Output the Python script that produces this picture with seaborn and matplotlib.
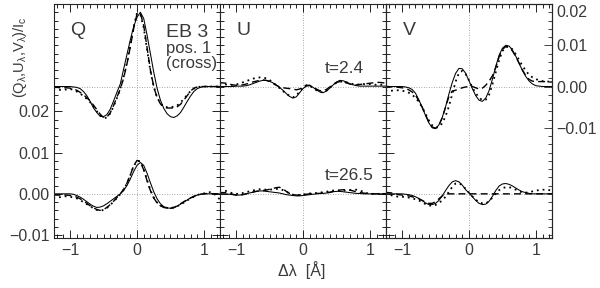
import numpy as np
import pandas as pd
import matplotlib
matplotlib.use("Agg")
import matplotlib.pyplot as plt
import matplotlib.transforms as mtransforms
from matplotlib.ticker import MultipleLocator, FixedLocator
import seaborn as sns

# wavelength grid (Angstrom), profiles in units of 1e-3 I_c
dl = np.round(np.arange(-25, 26) * 0.05, 2)
OFFSET = 0.026  # shift of the t=2.4 profiles
epochs = ["t=2.4", "t=26.5"]
kinds = ["solid", "dashed", "dotted"]

# rows: -1.25..-0.80 | -0.75..-0.30 | -0.25..0.20 | 0.25..0.70 | 0.75..1.25
q_early_solid = [0, 0, 0, 0, 0, 0, -0.1, -0.2, -0.5, -1.2,
                 -2.2, -3.6, -5.2, -6.3, -7.2, -7.3, -6.8, -5.5, -3.5, -1.4,
                 0.6, 4.2, 7.8, 11.3, 14.5, 16.8, 18.0, 16.5, 12.5, 8.0,
                 3.5, -0.4, -3.3, -5.3, -6.6, -7.3, -7.5, -7.1, -6.3, -5.0,
                 -3.6, -2.3, -1.2, -0.5, -0.2, 0, 0, 0, 0, 0, 0]
q_early_dashed = [-0.1, -0.2, -0.3, -0.3, -0.3, -0.4, -0.6, -0.9, -1.4, -2.0,
                  -2.7, -3.5, -4.5, -5.6, -6.7, -7.5, -7.4, -6.4, -4.6, -2.6,
                  -0.6, 2.0, 5.5, 9.6, 14.0, 17.6, 17.8, 14.8, 9.5, 4.0,
                  0.0, -2.7, -4.2, -5.0, -5.2, -5.2, -5.2, -4.9, -4.3, -3.3,
                  -2.2, -1.1, -0.4, -0.1, 0, 0, 0, 0, 0, 0, 0]
q_early_dotted = [-0.6, -0.7, -0.8, -0.8, -0.7, -0.6, -0.8, -1.2, -1.7, -2.3,
                  -3.0, -3.8, -4.8, -6.0, -7.0, -7.7, -7.5, -6.5, -4.8, -2.8,
                  -0.5, 2.3, 5.8, 10.0, 14.5, 17.8, 17.5, 14.3, 9.0, 3.8,
                  0.0, -2.6, -4.1, -4.9, -5.0, -5.0, -4.9, -4.6, -3.9, -3.0,
                  -2.0, -1.1, -0.5, -0.2, 0, 0, 0, 0, 0, 0, 0]
q_late_solid = [0, 0, 0, 0, 0, 0, -0.1, -0.4, -0.8, -1.3,
                -1.9, -2.5, -3.0, -3.3, -3.2, -2.9, -2.4, -1.8, -1.2, -0.6,
                0.0, 0.8, 2.0, 3.6, 5.4, 6.9, 7.6, 6.9, 5.0, 2.7,
                0.5, -1.2, -2.4, -3.1, -3.4, -3.5, -3.4, -3.0, -2.5, -2.0,
                -1.5, -1.0, -0.6, -0.3, -0.1, 0, 0, 0, 0, 0, 0]
q_late_dashed = [-0.3, -0.3, -0.3, -0.3, -0.3, -0.4, -0.5, -0.8, -1.2, -1.7,
                 -2.3, -2.9, -3.4, -3.8, -4.0, -3.8, -3.3, -2.6, -1.8, -0.9,
                 0.0, 1.1, 2.6, 4.6, 6.8, 8.1, 7.8, 5.8, 3.2, 0.8,
                 -1.0, -2.2, -2.9, -3.3, -3.5, -3.5, -3.3, -2.9, -2.4, -1.9,
                 -1.4, -1.0, -0.6, -0.3, -0.1, 0, 0.1, 0.1, 0, 0, 0]
q_late_dotted = [-1.0, -1.0, -0.8, -0.6, -0.6, -0.7, -0.9, -1.1, -1.5, -2.0,
                 -2.5, -3.0, -3.5, -3.9, -4.1, -3.9, -3.4, -2.7, -1.9, -1.0,
                 -0.1, 1.0, 2.5, 4.5, 6.7, 8.0, 7.9, 6.0, 3.4, 0.9,
                 -0.9, -2.1, -2.8, -3.2, -3.4, -3.4, -3.3, -3.0, -2.6, -2.1,
                 -1.6, -1.1, -0.7, -0.3, 0.0, 0.1, 0.3, 0.4, 0.1, -0.8, -1.5]

u_early_solid = [0.0, 0.0, 0.0, 0.0, 0.0, 0.1, 0.1, 0.1, 0.2, 0.4,
                 0.7, 1.0, 1.3, 1.5, 1.5, 1.3, 0.9, 0.4, -0.2, -0.9,
                 -1.7, -2.4, -2.8, -2.5, -1.5, -0.5, 0.1, 0.2, -0.2, -0.8,
                 -1.3, -1.5, -1.1, -0.4, 0.4, 1.1, 1.5, 1.4, 1.1, 0.7,
                 0.4, 0.2, 0.1, 0.1, 0.1, 0.1, 0.1, 0.1, 0.1, 0.1, 0.1]
u_early_dashed = [0.9, 0.9, 0.8, 0.6, 0.4, 0.3, 0.3, 0.4, 0.6, 0.8,
                  1.1, 1.3, 1.5, 1.6, 1.5, 1.2, 0.8, 0.3, -0.1, -0.3,
                  -0.4, -0.5, -0.6, -0.8, -0.6, -0.1, 0.3, 0.3, -0.1, -0.6,
                  -1.0, -1.1, -0.7, -0.1, 0.5, 1.0, 1.2, 1.1, 0.9, 0.6,
                  0.4, 0.4, 0.5, 0.6, 0.7, 0.8, 0.9, 1.0, 1.0, 0.9, 0.8]
u_early_dotted = [0.6, 0.6, 0.5, 0.4, 0.4, 0.5, 0.7, 1.0, 1.3, 1.6,
                  1.9, 2.1, 2.2, 2.2, 2.0, 1.6, 1.0, 0.3, -0.4, -1.1,
                  -1.7, -2.3, -2.6, -2.2, -1.2, -0.2, 0.3, 0.2, -0.3, -0.9,
                  -1.3, -1.4, -1.0, -0.3, 0.4, 0.9, 1.2, 1.2, 1.0, 0.8,
                  0.6, 0.5, 0.5, 0.6, 0.6, 0.6, 0.5, 0.4, 0.4, 0.5, 0.5]
u_late_solid = [0.0, 0.0, 0.0, -0.1, -0.2, -0.3, -0.3, -0.2, 0.0, 0.2,
                0.4, 0.6, 0.7, 0.7, 0.6, 0.5, 0.4, 0.3, 0.2, 0.0,
                -0.2, -0.3, -0.4, -0.5, -0.5, -0.4, -0.3, -0.2, -0.1, 0.0,
                0.1, 0.1, 0.2, 0.3, 0.5, 0.6, 0.6, 0.5, 0.4, 0.3,
                0.2, 0.1, 0.1, 0.0, 0.0, 0.0, 0.0, 0.0, 0.0, 0.0, 0.0]
u_late_dashed = [0.2, 0.3, 0.3, 0.1, -0.1, -0.3, -0.3, -0.2, 0.0, 0.2,
                 0.4, 0.6, 0.7, 0.8, 0.9, 1.1, 1.3, 1.5, 1.6, 1.2,
                 0.6, 0.1, -0.2, -0.3, -0.3, -0.2, -0.1, 0.0, 0.0, 0.1,
                 0.1, 0.2, 0.3, 0.4, 0.6, 0.8, 0.9, 1.0, 1.0, 0.9,
                 0.7, 0.5, 0.3, 0.2, 0.1, 0.0, 0.0, 0.0, 0.0, 0.0, 0.0]
u_late_dotted = [0.7, 0.8, 0.7, 0.4, 0.1, 0.0, 0.0, 0.2, 0.4, 0.6,
                 0.8, 1.0, 1.1, 1.1, 1.0, 1.0, 1.1, 1.2, 1.2, 0.9,
                 0.5, 0.1, -0.2, -0.3, -0.3, -0.2, 0.0, 0.1, 0.1, 0.2,
                 0.3, 0.4, 0.5, 0.7, 0.8, 0.8, 0.8, 0.8, 0.8, 0.9,
                 1.0, 1.0, 0.8, 0.5, 0.2, 0.0, 0.0, 0.0, 0.0, 0.0, 0.0]

v_early_solid = [0.0, 0.0, 0.0, 0.0, 0.0, 0.0, -0.1, -0.3, -0.7, -1.6,
                 -3.2, -5.0, -7.0, -8.8, -10.0, -10.2, -9.3, -7.5, -4.9, -1.8,
                 1.0, 3.2, 4.4, 4.3, 3.2, 1.4, -0.5, -2.2, -3.3, -3.6,
                 -2.8, -1.0, 1.8, 4.9, 7.6, 9.3, 10.0, 9.8, 8.8, 7.3,
                 5.6, 3.8, 2.4, 1.3, 0.6, 0.2, 0.1, 0.0, 0.0, 0.0, 0.0]
v_early_dashed = [0.0, 0.0, -0.1, -0.1, -0.2, -0.3, -0.5, -0.8, -1.3, -2.1,
                  -3.4, -5.0, -6.8, -8.6, -9.8, -10.1, -9.4, -7.6, -5.0, -2.4,
                  -1.1, -0.9, -0.6, -0.3, -0.1, 0.0, 0.0, -0.3, -0.6, -0.4,
                  0.3, 1.3, 2.6, 4.6, 7.2, 9.0, 9.7, 9.5, 8.6, 7.2,
                  5.6, 4.0, 2.6, 1.7, 1.3, 1.2, 1.2, 1.2, 1.2, 1.1, 1.1]
v_early_dotted = [-1.0, -1.1, -1.0, -0.9, -0.9, -1.0, -1.2, -1.5, -2.0, -2.7,
                  -3.7, -5.0, -6.6, -8.2, -9.4, -10.0, -9.8, -8.9, -7.2, -4.8,
                  -1.8, 1.2, 3.3, 3.8, 3.0, 1.5, -0.2, -1.6, -2.7, -3.3,
                  -3.2, -2.0, 0.5, 3.5, 6.4, 8.6, 9.6, 9.7, 9.0, 7.8,
                  6.4, 5.0, 3.8, 2.8, 2.2, 1.8, 1.5, 1.3, 1.2, 1.2, 1.2]
v_late_solid = [0.0, 0.0, 0.0, 0.0, 0.0, 0.0, -0.1, -0.2, -0.4, -0.7,
                -1.1, -1.6, -2.2, -2.6, -2.6, -2.3, -1.6, -0.5, 0.8, 2.0,
                2.9, 3.2, 2.9, 2.1, 1.0, 0.2, -0.7, -1.6, -2.3, -2.6,
                -2.5, -1.8, -0.6, 0.8, 1.9, 2.4, 2.5, 2.3, 1.9, 1.4,
                0.9, 0.5, 0.3, 0.1, 0.0, 0.0, 0.0, 0.0, 0.0, 0.0, 0.0]
v_late_dashed = [0.3, 0.3, 0.2, 0.0, -0.2, -0.3, -0.4, -0.5, -0.7, -0.9,
                 -1.2, -1.6, -2.0, -2.3, -2.3, -1.9, -1.2, -0.5, -0.1, 0.0,
                 0.0, 0.0, 0.0, 0.0, 0.0, 0.0, 0.0, 0.0, 0.0, 0.0,
                 0.0, 0.0, 0.0, 0.0, 0.0, 0.0, 0.0, 0.0, 0.0, 0.0,
                 0.0, 0.0, 0.0, 0.0, 0.0, 0.0, 0.0, 0.0, 0.0, 0.0, 0.0]
v_late_dotted = [0.2, -0.1, -0.4, -0.6, -0.7, -0.7, -0.8, -0.9, -1.1, -1.3,
                 -1.6, -2.0, -2.5, -2.8, -2.9, -2.7, -2.2, -1.6, -0.7, 0.5,
                 1.7, 2.5, 2.6, 2.1, 1.2, 0.3, -0.6, -1.4, -2.0, -2.3,
                 -2.3, -1.8, -0.9, 0.1, 0.9, 1.4, 1.6, 1.6, 1.4, 1.0,
                 0.6, 0.3, 0.3, 0.4, 0.6, 0.8, 0.9, 1.0, 1.0, 0.9, 0.6]

profiles = {
    ("Q", "t=2.4"): [q_early_solid, q_early_dashed, q_early_dotted],
    ("Q", "t=26.5"): [q_late_solid, q_late_dashed, q_late_dotted],
    ("U", "t=2.4"): [u_early_solid, u_early_dashed, u_early_dotted],
    ("U", "t=26.5"): [u_late_solid, u_late_dashed, u_late_dotted],
    ("V", "t=2.4"): [v_early_solid, v_early_dashed, v_early_dotted],
    ("V", "t=26.5"): [v_late_solid, v_late_dashed, v_late_dotted],
}

rows = []
for (stokes, ep), curves in profiles.items():
    for kind, vals in zip(kinds, curves):
        shift = OFFSET if ep == "t=2.4" else 0.0
        for x, v in zip(dl, vals):
            rows.append((stokes, ep, kind, x, v * 1e-3 + shift))
df = pd.DataFrame(rows, columns=["stokes", "epoch", "kind", "dl", "y"])

sns.set_style("ticks")
plt.rcParams["font.family"] = ["Liberation Sans", "DejaVu Sans"]
plt.rcParams["mathtext.fontset"] = "custom"
plt.rcParams["mathtext.rm"] = "Liberation Sans"
plt.rcParams["mathtext.it"] = "Liberation Sans"
TXT = "#3a3a3a"
LS = 11.5

line_style = {"solid": dict(ls="-", lw=0.75),
              "dashed": dict(ls=(0, (5, 3)), lw=1.0),
              "dotted": dict(ls=(0, (1, 2.2)), lw=1.3)}

fig = plt.figure(figsize=(6, 2.88), dpi=100)
axes = [fig.add_axes([(54 + 166 * i) / 600, 50 / 288, 166 / 600, 234 / 288]) for i in range(3)]
ylim = (-0.0107, 0.0460)

for ax, stokes in zip(axes, ["Q", "U", "V"]):
    sub = df[df.stokes == stokes]
    for kind in kinds:
        sns.lineplot(data=sub[sub.kind == kind], x="dl", y="y", units="epoch",
                     estimator=None, sort=False, color="k", ax=ax, legend=False,
                     **line_style[kind])
    for yy in (0.0, OFFSET):
        ax.axhline(yy, color="0.55", ls=(0, (1, 2)), lw=0.6, zorder=0)
    ax.axvline(0, color="0.55", ls=(0, (1, 2)), lw=0.6, zorder=0)
    ax.set_xlim(-1.24, 1.24)
    ax.set_ylim(*ylim)
    ax.set_xlabel("")
    ax.set_ylabel("")
    ax.xaxis.set_major_locator(FixedLocator([-1, 0, 1]))
    ax.xaxis.set_minor_locator(MultipleLocator(0.1))
    ax.yaxis.set_major_locator(FixedLocator([-0.01, 0.0, 0.01, 0.02]))
    ax.yaxis.set_minor_locator(MultipleLocator(0.002))
    ax.tick_params(which="both", direction="in", top=True, right=True,
                   width=0.6, colors="k", labelcolor=TXT, labelsize=LS)
    ax.tick_params(which="major", length=6)
    ax.tick_params(which="minor", length=3)
    ax.set_xticklabels(["\u22121", "0", "1"])
    for s in ax.spines.values():
        s.set_linewidth(0.8)
    ax.text(0.1, 0.885, stokes, transform=ax.transAxes, fontsize=14,
            color=TXT, va="center", ha="left")

axes[0].set_yticklabels(["\u22120.01", "0.00", "0.01", "0.02"])
axes[0].tick_params(axis="y", pad=3)
for ax in axes[1:]:
    ax.tick_params(labelleft=False)
axes[2].tick_params(right=False)

# right axis relative to the shifted profiles
rax = axes[2].twinx()
rax.set_ylim(*ylim)
rax.yaxis.set_major_locator(FixedLocator([OFFSET - 0.01, OFFSET, OFFSET + 0.01, OFFSET + 0.02]))
rax.yaxis.set_minor_locator(MultipleLocator(0.002))
rax.set_yticklabels(["\u22120.01", "0.00", "0.01", "0.02"])
rax.tick_params(which="both", direction="in", width=0.6, labelcolor=TXT, labelsize=LS, pad=3)
rax.tick_params(which="major", length=6)
rax.tick_params(which="minor", length=3)
rax.spines["right"].set_linewidth(0.8)
top_lab = rax.get_yticklabels()[-1]
top_lab.set_va("top")
top_lab.set_transform(top_lab.get_transform() +
                      mtransforms.ScaledTranslation(0, -1 / 72, fig.dpi_scale_trans))

axes[0].text(0.675, 0.88, "EB 3", transform=axes[0].transAxes, fontsize=14, color=TXT, va="center")
axes[0].text(0.675, 0.808, "pos. 1", transform=axes[0].transAxes, fontsize=12, color=TXT, va="center")
axes[0].text(0.675, 0.745, "(cross)", transform=axes[0].transAxes, fontsize=12, color=TXT, va="center")
axes[1].text(0.633, 0.726, epochs[0], transform=axes[1].transAxes, fontsize=12.5, color=TXT, va="center")
axes[1].text(0.633, 0.265, epochs[1], transform=axes[1].transAxes, fontsize=12.5, color=TXT, va="center")

fig.text(20 / 600, 1 - 57 / 288, r"(Q$_\lambda$,U$_\lambda$,V$_\lambda$)/I$_c$",
         rotation=90, ha="center", va="center", fontsize=10.5, color=TXT)
fig.text(302 / 600, 1 - 270 / 288, "\u0394\u03bb  [\u00c5]", ha="center", va="center",
         fontsize=11.5, color=TXT)

fig.savefig("out.png", dpi=100)
